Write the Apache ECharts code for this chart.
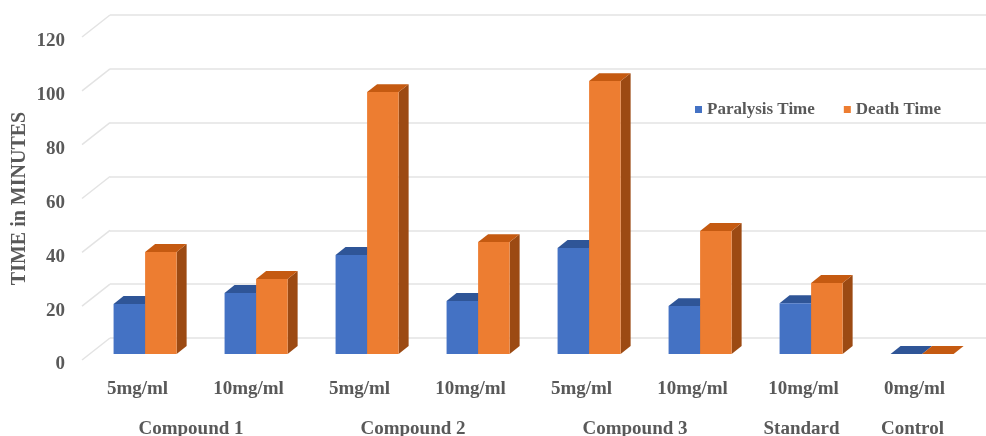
<!DOCTYPE html>
<html>
<head>
<meta charset="utf-8">
<script src="https://cdn.jsdelivr.net/npm/echarts@6/dist/echarts.min.js"></script>
<style>
  html, body { margin: 0; padding: 0; background: #fff; }
  #chart { width: 986px; height: 436px; }
</style>
</head>
<body>
<div id="chart"></div>
<script>
// values
const categories = ['5mg/ml', '10mg/ml', '5mg/ml', '10mg/ml', '5mg/ml', '10mg/ml', '10mg/ml', '0mg/ml']
const paralysisTime = [18.6, 22.7, 36.8, 19.7, 39.4, 17.8, 18.9, 0]
const deathTime = [37.9, 27.9, 97.3, 41.6, 101.4, 45.7, 26.4, 0]
const groupNames = ['Compound 1', 'Compound 2', 'Compound 3', 'Standard', 'Control']
const groupStart = [0, 2, 4, 6, 7]
const groupEnd = [1, 3, 5, 6, 7]
const yTicks = [0, 20, 40, 60, 80, 100, 120]

const FONT = "'Liberation Serif', 'Times New Roman', serif"
const TEXT = '#595959'
const GRIDLINE = '#e3e3e3'

// fake 3d: floor depth and where bars sit in it
const FLOOR = [28, -22]
const BAR_OFF = [7.6, -6]
const BAR_DEPTH = [10, -7.9]
const BAR_W = 0.284 // of band

const colors = {
    blue: { face: '#4472C4', top: '#2F5597', side: '#2B4F8C' },
    orange: { face: '#ED7D31', top: '#C55A11', side: '#9C4A13' },
}

function barRenderer(pal, side) {
    return function (params, api) {
        const cat = api.value(0)
        const val = api.value(1)
        const base = api.coord([cat, 0])
        const top = api.coord([cat, val])
        const band = api.size([1, 0])[0]
        const w = band * BAR_W
        const x0 = base[0] + BAR_OFF[0] + (side < 0 ? -w : 0)
        const x1 = x0 + w
        const yb = base[1] + BAR_OFF[1]
        const yt = top[1] + BAR_OFF[1]
        const dx = BAR_DEPTH[0], dy = BAR_DEPTH[1]
        return {
            type: 'group',
            children: [
                {
                    type: 'polygon',
                    shape: { points: [[x1, yb], [x1, yt], [x1 + dx, yt + dy], [x1 + dx, yb + dy]] },
                    style: { fill: pal.side },
                },
                {
                    type: 'polygon',
                    shape: { points: [[x0, yt], [x1, yt], [x1 + dx, yt + dy], [x0 + dx, yt + dy]] },
                    style: { fill: pal.top },
                },
                {
                    type: 'rect',
                    shape: { x: x0, y: yt, width: w, height: yb - yt },
                    style: { fill: pal.face },
                },
            ],
        }
    }
}

const chart = echarts.init(document.getElementById('chart'))

const option = {
    animation: false,
    backgroundColor: '#fff',
    textStyle: { fontFamily: FONT },
    legend: {
        data: ['Paralysis Time', 'Death Time'],
        left: 690,
        top: 96,
        icon: 'rect',
        itemWidth: 7,
        itemHeight: 7,
        itemGap: 29,
        textStyle: { fontFamily: FONT, fontSize: 17, fontWeight: 'bold', color: TEXT },
    },
    grid: [
        // front plane
        { left: 82, top: 37, width: 888, height: 323, outerBoundsMode: 'none' },
        // back wall
        { left: 110, top: 15, width: 888, height: 323, outerBoundsMode: 'none' },
    ],
    xAxis: [
        {
            type: 'category',
            gridIndex: 0,
            data: categories,
            axisLine: { show: false },
            axisTick: { show: false },
            axisLabel: {
                interval: 0,
                margin: 20,
                fontFamily: FONT,
                fontSize: 19,
                fontWeight: 'bold',
                color: TEXT,
            },
        },
        {
            type: 'category',
            gridIndex: 1,
            data: categories,
            show: false,
        },
    ],
    yAxis: [
        {
            type: 'value',
            gridIndex: 0,
            min: 0,
            max: 120,
            interval: 20,
            name: 'TIME in MINUTES',
            nameLocation: 'middle',
            nameGap: 52,
            nameMoveOverlap: false,
            nameTextStyle: { fontFamily: FONT, fontSize: 20, fontWeight: 'bold', color: TEXT },
            axisLine: { show: false },
            axisTick: { show: false },
            splitLine: { show: false },
            axisLabel: {
                margin: 17,
                formatter: '{v|{value}}',
                rich: {
                    v: {
                        padding: [9, 0, 0, 0],
                        fontFamily: FONT,
                        fontSize: 19,
                        fontWeight: 'bold',
                        color: TEXT,
                    },
                },
            },
        },
        {
            type: 'value',
            gridIndex: 1,
            min: 0,
            max: 120,
            interval: 20,
            axisLine: { show: false },
            axisTick: { show: false },
            axisLabel: { show: false },
            splitLine: { lineStyle: { color: GRIDLINE, width: 1.5 } },
        },
    ],
    series: [
        {
            // left wall diagonals
            type: 'custom',
            xAxisIndex: 0,
            yAxisIndex: 0,
            silent: true,
            z: 1,
            data: yTicks.map((v) => [0, v]),
            renderItem: function (params, api) {
                const p = api.coord([0, api.value(1)])
                const band = api.size([1, 0])[0]
                const x = p[0] - band / 2
                return {
                    type: 'line',
                    shape: { x1: x, y1: p[1], x2: x + FLOOR[0], y2: p[1] + FLOOR[1] },
                    style: { stroke: GRIDLINE, lineWidth: 1.5 },
                }
            },
        },
        {
            name: 'Paralysis Time',
            type: 'custom',
            xAxisIndex: 0,
            yAxisIndex: 0,
            z: 3,
            itemStyle: { color: colors.blue.face },
            data: paralysisTime.map((v, i) => [i, v]),
            renderItem: barRenderer(colors.blue, -1),
        },
        {
            name: 'Death Time',
            type: 'custom',
            xAxisIndex: 0,
            yAxisIndex: 0,
            z: 3,
            itemStyle: { color: colors.orange.face },
            data: deathTime.map((v, i) => [i, v]),
            renderItem: barRenderer(colors.orange, 1),
        },
        {
            // group labels under the category labels
            type: 'custom',
            xAxisIndex: 0,
            yAxisIndex: 0,
            silent: true,
            data: groupNames.map((g, i) => [groupStart[i], groupEnd[i], g]),
            renderItem: function (params, api) {
                const a = api.coord([api.value(0), 0])
                const b = api.coord([api.value(1), 0])
                return {
                    type: 'text',
                    style: {
                        x: (a[0] + b[0]) / 2 - 2,
                        y: a[1] + 69,
                        text: groupNames[params.dataIndex],
                        align: 'center',
                        verticalAlign: 'middle',
                        font: 'bold 19px ' + FONT,
                        fill: TEXT,
                    },
                }
            },
        },
    ],
}

chart.setOption(option)
</script>
</body>
</html>
